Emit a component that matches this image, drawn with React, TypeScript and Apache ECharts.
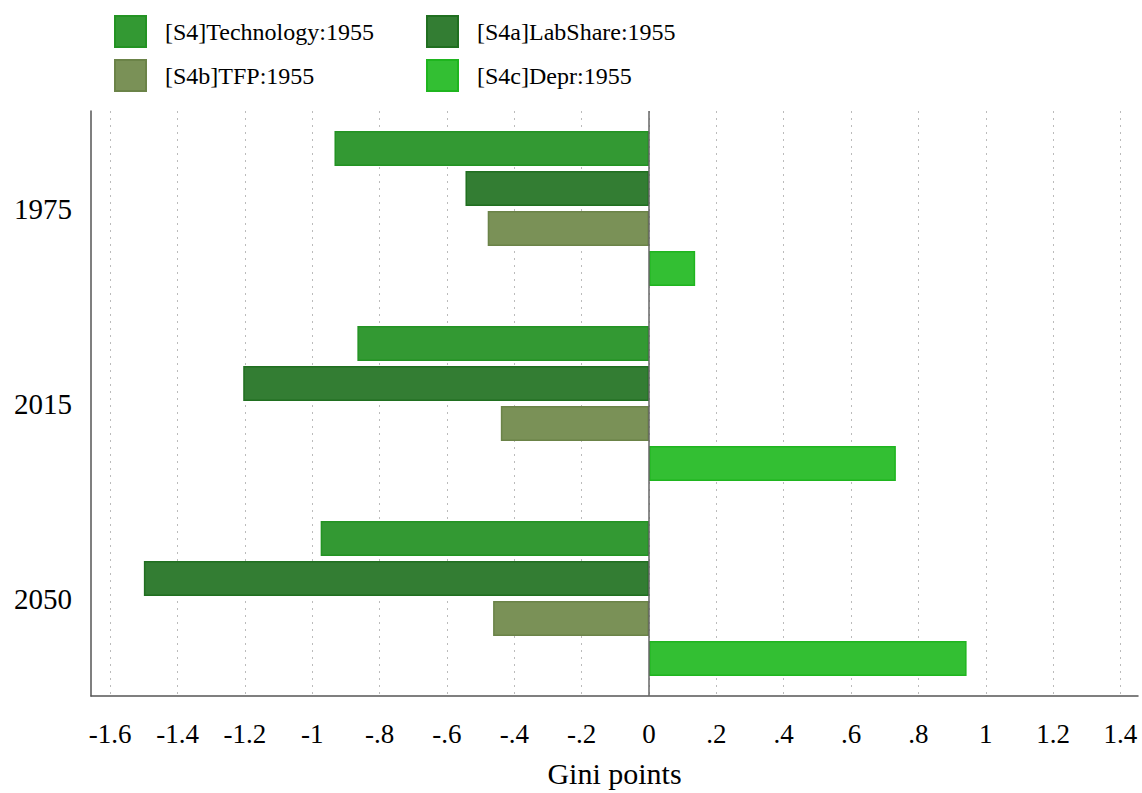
import { useEffect, useRef } from "react";
import * as echarts from "echarts";

const categories = ["1975", "2015", "2050"];
const seriesNames = [
  "[S4]Technology:1955",
  "[S4a]LabShare:1955",
  "[S4b]TFP:1955",
  "[S4c]Depr:1955",
];
const technology = [-0.934, -0.866, -0.975];
const labShare = [-0.545, -1.205, -1.5];
const tfp = [-0.479, -0.44, -0.463];
const depr = [0.137, 0.733, 0.943];
const xTicks = [-1.6, -1.4, -1.2, -1, -0.8, -0.6, -0.4, -0.2, 0, 0.2, 0.4, 0.6, 0.8, 1, 1.2, 1.4];

const fills = ["#339933", "#337d33", "#7a9157", "#33bf33"];
const borders = ["#239323", "#206f20", "#6b8348", "#1fb51f"];
const FONT = "Liberation Serif";

function fmt(v: number): string {
  const r = Math.round(v * 10) / 10;
  if (r === 0) return "0";
  let s = String(r);
  s = s.replace(/^(-?)0\./, "$1.");
  return s;
}

export default function App() {
  const ref = useRef<HTMLDivElement>(null);
  useEffect(() => {
    if (!ref.current) return;
    const chart = echarts.init(ref.current, null, { renderer: "svg" });
    const values = [technology, labShare, tfp, depr];
    const series: any[] = values.map((d, i) => ({
      name: seriesNames[i],
      type: "bar",
      data: d,
      barWidth: 35,
      barGap: "14.3%",
      itemStyle: { color: fills[i], borderColor: borders[i], borderWidth: 1.5 },
      ...(i === 0
        ? {
            markLine: {
              silent: true,
              symbol: "none",
              label: { show: false },
              lineStyle: { color: "#666", width: 1.5, type: "solid" },
              data: [{ xAxis: 0 }],
            },
          }
        : {}),
    }));
    const legendCommon = {
      orient: "vertical",
      top: 15,
      padding: 0,
      itemWidth: 31,
      itemHeight: 31,
      itemGap: 11,
      icon: "rect",
      textStyle: { fontFamily: FONT, fontSize: 24, color: "#000", padding: [0, 0, 0, 14] },
    };
    chart.setOption({
      animation: false,
      backgroundColor: "#fff",
      legend: [
        { ...legendCommon, left: 114, data: [seriesNames[0], seriesNames[2]] },
        { ...legendCommon, left: 426, data: [seriesNames[1], seriesNames[3]] },
      ],
      grid: { left: 91, right: 4, top: 111, height: 591, containLabel: false },
      xAxis: {
        type: "value",
        min: -1.657,
        max: 1.452,
        name: "Gini points",
        nameLocation: "middle",
        nameGap: 62,
        nameTextStyle: { fontFamily: FONT, fontSize: 30, color: "#000" },
        axisLine: { show: true, onZero: false, lineStyle: { color: "#555", width: 1.5 } },
        axisTick: { show: false, customValues: xTicks },
        axisLabel: {
          customValues: xTicks,
          formatter: (v: number) => fmt(v),
          fontFamily: FONT,
          fontSize: 27,
          color: "#000",
          margin: 24,
        },
        splitLine: {
          show: true,
          lineStyle: { color: "#bbb", width: 1, type: [2, 5] },
        },
      },
      yAxis: {
        type: "category",
        data: categories,
        inverse: true,
        axisLine: { show: true, onZero: false, lineStyle: { color: "#555", width: 1.5 } },
        axisTick: { show: false },
        axisLabel: { fontFamily: FONT, fontSize: 29, color: "#000", margin: 19 },
        splitLine: { show: false },
      },
      series,
    });
    return () => chart.dispose();
  }, []);
  return (
    <div
      ref={ref}
      style={{ position: "fixed", left: 0, top: 0, width: 1142, height: 793 }}
    />
  );
}
